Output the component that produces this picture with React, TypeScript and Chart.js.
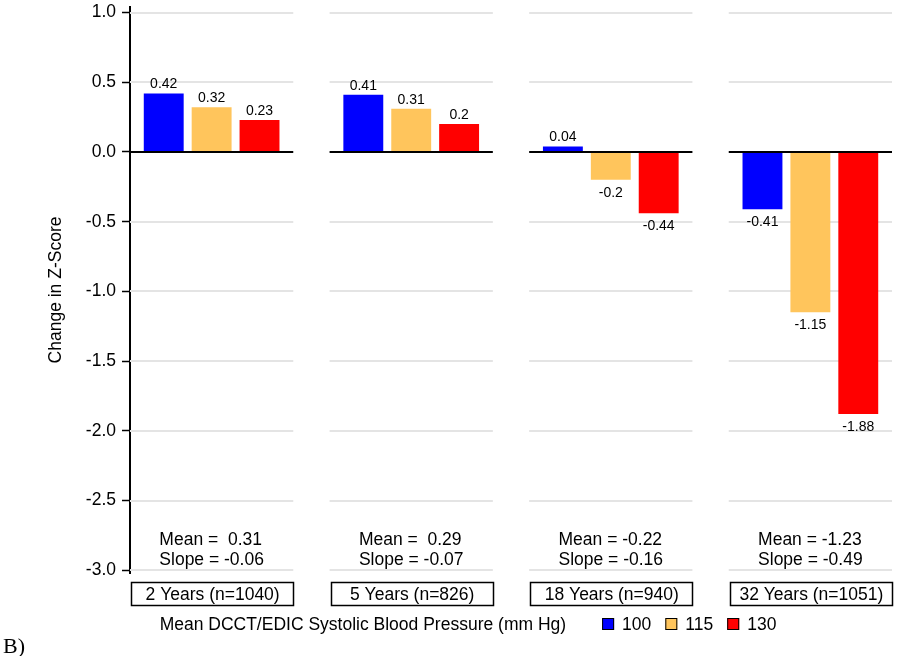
import React, { useEffect, useRef } from "react";
import { Chart, registerables } from "chart.js";

Chart.register(...registerables);

// ---- data ----
const panels = ["2 Years (n=1040)", "5 Years (n=826)", "18 Years (n=940)", "32 Years (n=1051)"];
const bpLevels = ["100", "115", "130"];
const values100 = [0.42, 0.41, 0.04, -0.41];
const values115 = [0.32, 0.31, -0.2, -1.15];
const values130 = [0.23, 0.2, -0.44, -1.88];
const means = ["0.31", "0.29", "-0.22", "-1.23"];
const slopes = ["-0.06", "-0.07", "-0.16", "-0.49"];
const yTicks = [-3, -2.5, -2, -1.5, -1, -0.5, 0, 0.5, 1];
const yTitle = "Change in Z-Score";
const legendTitle = "Mean DCCT/EDIC Systolic Blood Pressure (mm Hg)";

// ---- styles ----
const colors = ["#0000FF", "#FFC55C", "#FF0000"];
const FONT = '"Liberation Sans", Arial, sans-serif';
const HALF = 0.409; // half panel width in x units
const W = 898;
const H = 656;

const pad = (v: string) => (v.startsWith("-") ? v : " " + v);

const panelPlugin = {
  id: "panelPlugin",
  beforeDatasetsDraw(chart: any) {
    const { ctx, scales } = chart;
    const x = scales.x;
    const y = scales.y;
    ctx.save();
    ctx.strokeStyle = "#e4e4e4";
    ctx.lineWidth = 2;
    panels.forEach((_, k) => {
      const x0 = x.getPixelForValue(k - HALF);
      const x1 = x.getPixelForValue(k + HALF);
      yTicks.forEach((t) => {
        if (t === 0) return;
        const py = Math.round(y.getPixelForValue(t));
        ctx.beginPath();
        ctx.moveTo(x0, py);
        ctx.lineTo(x1, py);
        ctx.stroke();
      });
    });
    ctx.restore();
  },
  afterDatasetsDraw(chart: any) {
    const { ctx, scales, chartArea } = chart;
    const x = scales.x;
    const y = scales.y;
    const bottom = chartArea.bottom;
    ctx.save();

    // zero lines per panel
    ctx.strokeStyle = "#000";
    ctx.lineWidth = 2;
    const zy = Math.round(y.getPixelForValue(0));
    panels.forEach((_, k) => {
      const x0 = x.getPixelForValue(k - HALF);
      const x1 = x.getPixelForValue(k + HALF);
      ctx.beginPath();
      ctx.moveTo(x0, zy);
      ctx.lineTo(x1, zy);
      ctx.stroke();
    });

    // value labels
    ctx.fillStyle = "#000";
    ctx.font = `14px ${FONT}`;
    ctx.textAlign = "center";
    ctx.textBaseline = "alphabetic";
    chart.data.datasets.forEach((ds: any, i: number) => {
      const meta = chart.getDatasetMeta(i);
      meta.data.forEach((el: any, k: number) => {
        const v = ds.data[k].y;
        const txt = String(v);
        if (v >= 0) ctx.fillText(txt, el.x, el.y - 5);
        else ctx.fillText(txt, el.x, el.y + 17);
      });
    });

    // mean / slope text
    ctx.font = `17.5px ${FONT}`;
    ctx.textAlign = "left";
    panels.forEach((_, k) => {
      const cx = x.getPixelForValue(k);
      const l1 = "Mean = " + pad(means[k]);
      const l2 = "Slope = " + slopes[k];
      const w = Math.max(ctx.measureText(l1).width, ctx.measureText(l2).width);
      const sx = cx - w / 2;
      ctx.fillText(l1, sx, bottom - 28);
      ctx.fillText(l2, sx, bottom - 8);
    });

    // panel boxes
    ctx.lineWidth = 1.5;
    ctx.strokeStyle = "#000";
    ctx.textAlign = "center";
    panels.forEach((p, k) => {
      const x0 = x.getPixelForValue(k - HALF);
      const x1 = x.getPixelForValue(k + HALF);
      ctx.strokeRect(Math.round(x0) + 1.5, bottom + 9.5, Math.round(x1 - x0) - 1, 23);
      ctx.fillText(p, (x0 + x1) / 2 + 1, bottom + 27);
    });

    // legend
    ctx.textAlign = "left";
    const lx = x.getPixelForValue(0) - 52;
    const ly = bottom + 57;
    ctx.fillText(legendTitle, lx, ly);
    let cx = lx + ctx.measureText(legendTitle).width + 36;
    bpLevels.forEach((lab, i) => {
      ctx.fillStyle = colors[i];
      ctx.fillRect(cx, ly - 12, 12, 12);
      ctx.lineWidth = 1;
      ctx.strokeStyle = "#000";
      ctx.strokeRect(cx + 0.5, ly - 11.5, 11, 11);
      ctx.fillStyle = "#000";
      ctx.fillText(lab, cx + 20, ly);
      cx += 20 + ctx.measureText(lab).width + 14;
    });

    // y title
    ctx.save();
    ctx.translate(61, 290);
    ctx.rotate(-Math.PI / 2);
    ctx.textAlign = "center";
    ctx.fillText(yTitle, 0, 0);
    ctx.restore();

    ctx.restore();
  },
};

export default function App() {
  const ref = useRef<HTMLCanvasElement>(null);
  useEffect(() => {
    if (!ref.current) return;
    const seriesValues = [values100, values115, values130];
    const chart = new Chart(ref.current, {
      type: "bar",
      data: {
        datasets: seriesValues.map((vals, i) => ({
          label: bpLevels[i],
          data: vals.map((v, k) => ({ x: k, y: v })),
          backgroundColor: colors[i],
          borderWidth: 0,
          categoryPercentage: 0.72,
          barPercentage: 0.833,
        })),
      },
      options: {
        animation: false,
        responsive: false,
        maintainAspectRatio: false,
        devicePixelRatio: 1,
        layout: { padding: { left: 0, right: 6, top: 7, bottom: 83 } },
        plugins: { legend: { display: false }, tooltip: { enabled: false } },
        scales: {
          x: {
            type: "linear",
            display: false,
            offset: false,
            bounds: "data",
            min: -HALF,
            max: panels.length - 1 + HALF,
            afterBuildTicks: (s: any) => {
              s.ticks = panels.map((_, k) => ({ value: k }));
            },
            grid: { display: false, offset: false },
          },
          y: {
            min: -3.02,
            max: 1.04,
            bounds: "data",
            afterBuildTicks: (s: any) => {
              s.ticks = yTicks.map((v) => ({ value: v }));
            },
            afterFit: (s: any) => {
              s.width = 130;
              s.paddingTop = 0;
              s.paddingBottom = 0;
            },
            border: { display: true, color: "#000", width: 2 },
            grid: {
              drawOnChartArea: false,
              drawTicks: true,
              tickLength: 8,
              tickColor: "#000",
              tickWidth: 1.5,
            },
            ticks: {
              color: "#000",
              font: { family: FONT, size: 17.5 },
              padding: 6,
              autoSkip: false,
              callback: (v: any) => Number(v).toFixed(1),
            },
          },
        },
      } as any,
      plugins: [panelPlugin],
    });
    return () => chart.destroy();
  }, []);

  return (
    <div style={{ position: "fixed", left: 0, top: 0, width: W, height: H, background: "#fff" }}>
      <canvas ref={ref} width={W} height={H} style={{ width: W, height: H, display: "block" }} />
      <span
        style={{
          position: "absolute",
          left: 3,
          top: 635,
          fontFamily: '"Liberation Serif", "Times New Roman", serif',
          fontSize: 22,
          lineHeight: "22px",
          color: "#000",
        }}
      >
        B)
      </span>
    </div>
  );
}
